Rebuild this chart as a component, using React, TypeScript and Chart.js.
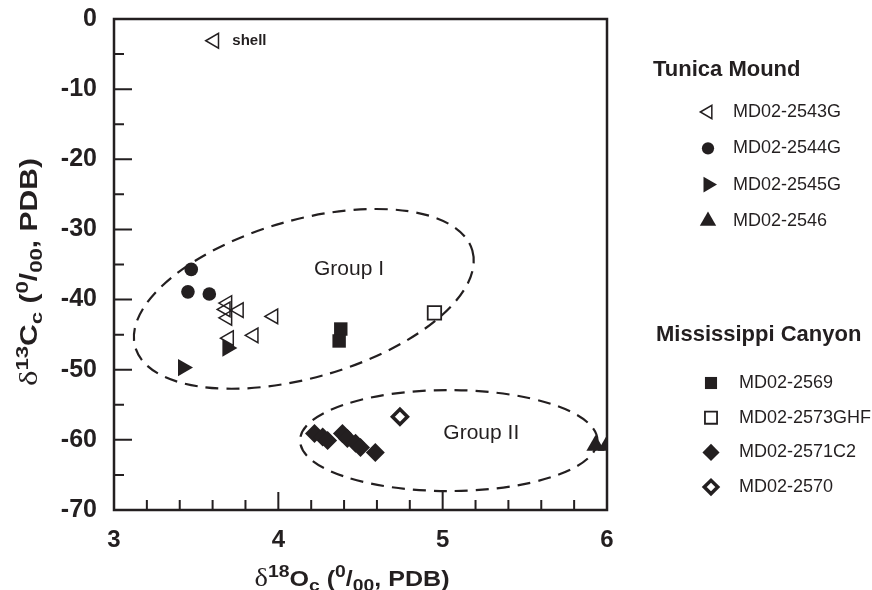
import React, { useEffect, useRef } from 'react';
import { Chart, registerables } from 'chart.js';
import { drawPoint } from 'chart.js/helpers';

Chart.register(...registerables);

const INK = '#231f20';
const SANS = "'Liberation Sans', Arial, Helvetica, sans-serif";
const SERIF = "'Liberation Serif', 'Times New Roman', serif";

// ---- axis ticks ----
const xTickLabels = [3, 4, 5, 6];
const yTickLabels = [0, -10, -20, -30, -40, -50, -60, -70];

// ---- data: [d18O, d13C] ----
const shell: [number, number][] = [[3.61, -3.1]];
const md2543G: [number, number][] = [
  [3.69, -40.5], [3.68, -41.4], [3.76, -41.5], [3.69, -42.6], [3.97, -42.4], [3.85, -45.1], [3.70, -45.5],
];
const md2544G: [number, number][] = [[3.47, -35.7], [3.45, -38.9], [3.58, -39.2]];
const md2545G: [number, number][] = [[3.69, -46.9], [3.42, -49.7]];
const md2546: [number, number][] = [[5.93, -60.8], [6.0, -60.8]];
const md2569: [number, number][] = [[4.38, -44.2], [4.37, -45.9]];
const md2573GHF: [number, number][] = [[4.95, -41.9]];
const md2571C2: [number, number][] = [
  [4.22, -59.1], [4.27, -59.6], [4.30, -60.1], [4.39, -59.1], [4.42, -59.8], [4.47, -60.5], [4.50, -61.1], [4.59, -61.8],
];
const md2570: [number, number][] = [[4.74, -56.7]];

// ---- annotations (data coordinates) ----
const groupEllipses = [
  { cx: 4.155, cy: -39.9, rx: 1.067, ry: 11.24, rotation: -16 },
  { cx: 5.037, cy: -60.1, rx: 0.905, ry: 7.2, rotation: 0 },
];
const groupLabels = [
  { text: 'Group I', x: 4.43, y: -35.7 },
  { text: 'Group II', x: 5.235, y: -59.1 },
];
const shellLabel = { text: 'shell', x: 3.72, y: -3.1 };

const legendGroups = [
  { title: 'Tunica Mound', items: ['MD02-2543G', 'MD02-2544G', 'MD02-2545G', 'MD02-2546'] },
  { title: 'Mississippi Canyon', items: ['MD02-2569', 'MD02-2573GHF', 'MD02-2571C2', 'MD02-2570'] },
];

type Style = { pointStyle: string; radius: number; rotation: number; fill: string; borderWidth: number };
const styles: Record<string, Style> = {
  'MD02-2543G': { pointStyle: 'triangle', radius: 8.5, rotation: -90, fill: 'rgba(0,0,0,0)', borderWidth: 1.5 },
  'MD02-2544G': { pointStyle: 'circle', radius: 6.8, rotation: 0, fill: INK, borderWidth: 0 },
  'MD02-2545G': { pointStyle: 'triangle', radius: 10, rotation: 90, fill: INK, borderWidth: 0 },
  'MD02-2546': { pointStyle: 'triangle', radius: 10.5, rotation: 0, fill: INK, borderWidth: 0 },
  'MD02-2569': { pointStyle: 'rect', radius: 9.5, rotation: 0, fill: INK, borderWidth: 0 },
  'MD02-2573GHF': { pointStyle: 'rect', radius: 9.5, rotation: 0, fill: '#ffffff', borderWidth: 1.8 },
  'MD02-2571C2': { pointStyle: 'rectRot', radius: 9.5, rotation: 0, fill: INK, borderWidth: 0 },
  'MD02-2570': { pointStyle: 'rectRot', radius: 7.5, rotation: 0, fill: '#ffffff', borderWidth: 3.5 },
};

const series: [string, [number, number][]][] = [
  ['MD02-2543G', md2543G],
  ['MD02-2544G', md2544G],
  ['MD02-2545G', md2545G],
  ['MD02-2546', md2546],
  ['MD02-2569', md2569],
  ['MD02-2573GHF', md2573GHF],
  ['MD02-2571C2', md2571C2],
  ['MD02-2570', md2570],
];

function makeDataset(label: string, pts: [number, number][], st: Style) {
  return {
    label,
    data: pts.map(([x, y]) => ({ x, y })),
    pointStyle: st.pointStyle,
    pointRadius: st.radius,
    pointRotation: st.rotation,
    pointBackgroundColor: st.fill,
    pointBorderColor: INK,
    pointBorderWidth: st.borderWidth,
    showLine: false,
  };
}

type Seg = { t: string; font: string; dy: number };
function richTitle(sup: string, letter: string, big: number): Seg[] {
  const B = `bold ${big}px ${SANS}`;
  const S = `bold 17px ${SANS}`;
  return [
    { t: 'δ', font: `25px ${SERIF}`, dy: 0 },
    { t: sup, font: S, dy: -9 },
    { t: letter, font: B, dy: 0 },
    { t: 'c', font: S, dy: 5 },
    { t: ' (', font: B, dy: 0 },
    { t: '0', font: S, dy: -9 },
    { t: '/', font: B, dy: 0 },
    { t: '00', font: S, dy: 5 },
    { t: ', PDB)', font: B, dy: 0 },
  ];
}
function drawRich(ctx: CanvasRenderingContext2D, segs: Seg[], cx: number, baseY: number, target: number) {
  let total = 0;
  for (const s of segs) { ctx.font = s.font; total += ctx.measureText(s.t).width; }
  const sx = target / total;
  ctx.save();
  ctx.translate(cx - target / 2, baseY);
  ctx.scale(sx, 1);
  let x = 0;
  ctx.textAlign = 'left';
  ctx.textBaseline = 'alphabetic';
  for (const s of segs) {
    ctx.font = s.font;
    ctx.fillText(s.t, x, s.dy);
    x += ctx.measureText(s.t).width;
  }
  ctx.restore();
}

const decorPlugin = {
  id: 'decor',
  beforeDatasetsDraw(chart: any) {
    const { ctx, scales } = chart;
    const xs = scales.x, ys = scales.y;
    ctx.save();
    ctx.strokeStyle = INK;
    ctx.lineWidth = 2.2;
    ctx.setLineDash([13, 8]);
    for (const e of groupEllipses) {
      const px = xs.getPixelForValue(e.cx);
      const py = ys.getPixelForValue(e.cy);
      const a = Math.abs(xs.getPixelForValue(e.cx + e.rx) - px);
      const b = Math.abs(ys.getPixelForValue(e.cy + e.ry) - py);
      ctx.beginPath();
      ctx.ellipse(px, py, a, b, (e.rotation * Math.PI) / 180, 0, Math.PI * 2);
      ctx.stroke();
    }
    ctx.setLineDash([]);
    ctx.fillStyle = INK;
    ctx.font = `21px ${SANS}`;
    ctx.textAlign = 'center';
    ctx.textBaseline = 'middle';
    for (const g of groupLabels) {
      ctx.fillText(g.text, xs.getPixelForValue(g.x), ys.getPixelForValue(g.y));
    }
    ctx.font = `bold 15px ${SANS}`;
    ctx.textAlign = 'left';
    ctx.fillText(shellLabel.text, xs.getPixelForValue(shellLabel.x), ys.getPixelForValue(shellLabel.y));
    ctx.restore();
  },
  afterDraw(chart: any) {
    const { ctx, chartArea: a, scales } = chart;
    const xs = scales.x, ys = scales.y;
    ctx.save();
    ctx.strokeStyle = INK;
    ctx.fillStyle = INK;
    ctx.lineWidth = 2.5;
    ctx.strokeRect(a.left, a.top, a.right - a.left, a.bottom - a.top);
    ctx.lineWidth = 2;
    ctx.beginPath();
    const yMin = yTickLabels[yTickLabels.length - 1];
    const yMax = yTickLabels[0];
    for (let v = yMax; v >= yMin; v -= 5) {
      const p = ys.getPixelForValue(v);
      const len = v % 10 === 0 ? 18 : 10;
      ctx.moveTo(a.left, p);
      ctx.lineTo(a.left + len, p);
    }
    const xMin = xTickLabels[0];
    const xMax = xTickLabels[xTickLabels.length - 1];
    for (let i = 0; i <= (xMax - xMin) * 5; i++) {
      const v = xMin + i * 0.2;
      const p = xs.getPixelForValue(v);
      const len = i % 5 === 0 ? 18 : 10;
      ctx.moveTo(p, a.bottom);
      ctx.lineTo(p, a.bottom - len);
    }
    ctx.stroke();

    drawRich(ctx, richTitle('18', 'O', 22), 352, 586, 195);
    ctx.save();
    ctx.translate(37, 272);
    ctx.rotate(-Math.PI / 2);
    drawRich(ctx, richTitle('13', 'C', 23), 0, 0, 228);
    ctx.restore();

    const layout = [
      { titleX: 653, titleY: 70, symX: 708, labelX: 733, rowY: 112, step: 36.3 },
      { titleX: 656, titleY: 335, symX: 711, labelX: 739, rowY: 383, step: 34.7 },
    ];
    legendGroups.forEach((g, gi) => {
      const L = layout[gi];
      ctx.fillStyle = INK;
      ctx.font = `bold 22px ${SANS}`;
      ctx.textAlign = 'left';
      ctx.textBaseline = 'middle';
      ctx.fillText(g.title, L.titleX, L.titleY);
      g.items.forEach((name, i) => {
        const st = styles[name];
        const y = L.rowY + i * L.step;
        ctx.fillStyle = st.fill;
        ctx.strokeStyle = INK;
        ctx.lineWidth = st.borderWidth;
        drawPoint(ctx, { pointStyle: st.pointStyle, radius: st.radius * 0.9, rotation: st.rotation, borderWidth: st.borderWidth } as any, L.symX, y);
        ctx.fillStyle = INK;
        ctx.font = `18px ${SANS}`;
        ctx.textBaseline = 'middle';
        ctx.fillText(name, L.labelX, y);
      });
    });
    ctx.restore();
  },
};

export default function App() {
  const ref = useRef<HTMLCanvasElement | null>(null);
  useEffect(() => {
    if (!ref.current) return;
    Chart.defaults.font.family = SANS;
    const datasets: any[] = [makeDataset('shell', shell, styles['MD02-2543G'])];
    for (const [name, pts] of series) datasets.push(makeDataset(name, pts, styles[name]));
    const chart = new Chart(ref.current, {
      type: 'scatter',
      data: { datasets },
      options: {
        animation: false,
        responsive: true,
        maintainAspectRatio: false,
        events: [],
        layout: { padding: { left: 0, right: 265, top: 19, bottom: 0 } },
        plugins: { legend: { display: false }, tooltip: { enabled: false } },
        scales: {
          x: {
            type: 'linear',
            min: xTickLabels[0],
            max: xTickLabels[xTickLabels.length - 1],
            afterBuildTicks: (s: any) => { s.ticks = xTickLabels.map((v) => ({ value: v })); },
            ticks: { color: INK, font: { size: 24, weight: 'bold' }, padding: 16, maxRotation: 0 },
            grid: { display: false, drawTicks: false },
            border: { display: false },
            afterFit: (s: any) => { s.height = 80; s.paddingLeft = 0; s.paddingRight = 0; },
          },
          y: {
            type: 'linear',
            min: yTickLabels[yTickLabels.length - 1],
            max: yTickLabels[0],
            afterBuildTicks: (s: any) => { s.ticks = yTickLabels.map((v) => ({ value: v })); },
            ticks: { color: INK, font: { size: 25, weight: 'bold' }, padding: 17 },
            grid: { display: false, drawTicks: false },
            border: { display: false },
            afterFit: (s: any) => { s.width = 114; s.paddingTop = 0; s.paddingBottom = 0; },
          },
        },
      } as any,
      plugins: [decorPlugin],
    });
    return () => chart.destroy();
  }, []);
  return (
    <div style={{ position: 'absolute', left: 0, top: 0, width: 872, height: 590, background: '#fff' }}>
      <canvas ref={ref} />
    </div>
  );
}
